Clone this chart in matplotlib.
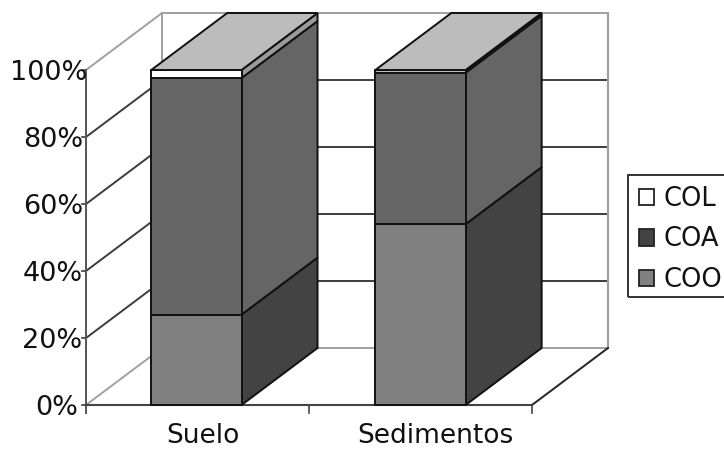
import matplotlib
matplotlib.use('Agg')
import matplotlib.pyplot as plt
from matplotlib.patches import Polygon, Patch, Rectangle

categories = ['Suelo', 'Sedimentos']
coo = [27.0, 54.0]
coa = [70.6, 45.2]
col = [2.4, 0.8]
y_ticks = [0, 20, 40, 60, 80, 100]
y_labels = ['0%', '20%', '40%', '60%', '80%', '100%']

# pixel scale of the picture
px_x = 223.0
px_y = 3.35
dx = 76 / px_x   # depth of the 3d box
dy = 57 / px_y
bar_x = [0.495, 1.5]
w = 0.405

fig = plt.figure(figsize=(7.24, 4.49), dpi=100)
ax = fig.add_axes([0, 0, 1, 1])
ax.set_xlim(-86 / px_x, (724 - 86) / px_x)
ax.set_ylim(-44 / px_y, 405 / px_y)
ax.axis('off')

light = '#a0a0a0'
dark = '#3c3c3c'

# walls and grid
for v in y_ticks:
    c = light if v in (0, 100) else dark
    ax.plot([0, dx], [v, v + dy], color=c, lw=1.4, zorder=1)
    ax.plot([dx, 2 + dx], [v + dy, v + dy], color=c, lw=1.4, zorder=1)
    ax.plot([-4 / px_x, 0], [v, v], color=dark, lw=1.2, zorder=1)
ax.plot([dx, dx], [dy, 100 + dy], color=light, lw=1.4, zorder=1)
ax.plot([2 + dx, 2 + dx], [dy, 100 + dy], color=light, lw=1.6, zorder=1)
ax.plot([0, 0], [-2.4, 100], color='#555555', lw=1.4, zorder=2)
ax.plot([0, 2], [0, 0], color='#444444', lw=1.5, zorder=2)
ax.plot([2, 2 + dx], [0, dy], color='#222222', lw=1.4, zorder=2)
for t in [1, 2]:
    ax.plot([t, t], [-2.4, 0], color='#444444', lw=1.2, zorder=2)


def box(x, y0, y1, front, side):
    ax.add_patch(Polygon([(x + w, y0), (x + w + dx, y0 + dy), (x + w + dx, y1 + dy), (x + w, y1)],
                         fc=side, ec='#111111', lw=1.4, zorder=3))
    ax.add_patch(Polygon([(x, y0), (x + w, y0), (x + w, y1), (x, y1)],
                         fc=front, ec='#111111', lw=1.4, zorder=4))


col_front = ['#ffffff', '#bdbdbd']
col_side = ['#9a9a9a', '#2e2e2e']
for i in range(len(categories)):
    x = bar_x[i] - w / 2
    a = coo[i]
    b = a + coa[i]
    c = b + col[i]
    box(x, 0, a, '#808080', '#434343')
    box(x, a, b, '#656565', '#656565')
    box(x, b, c, col_front[i], col_side[i])
    ax.add_patch(Polygon([(x, c), (x + w, c), (x + w + dx, c + dy), (x + dx, c + dy)],
                         fc='#bcbcbc', ec='#111111', lw=1.4, zorder=5))

# labels
right = [-8, -4, -3, -3, -3, 1]
for v, lab, r in zip(y_ticks, y_labels, right):
    ax.annotate(lab, (0, v), xytext=(r, -3), textcoords='offset pixels', ha='right', va='center',
                fontsize=19.5, color='#111111', zorder=6)
label_x = [0.525, 1.566]
for x, lab in zip(label_x, categories):
    ax.text(x, -11.2, lab, ha='center', va='baseline', fontsize=19, color='#111111')

handles = [Patch(fc='#ffffff', ec='#222222', lw=1.3, label='COL'),
           Patch(fc='#434343', ec='#222222', lw=1.3, label='COA'),
           Patch(fc='#808080', ec='#222222', lw=1.3, label='COO')]
leg = ax.legend(handles=handles, loc='upper left', bbox_to_anchor=(628 / 724, 1 - 175 / 449),
                fontsize=18.5, frameon=False,
                handlelength=0.6, handleheight=0.6, handletextpad=0.38, labelspacing=0.57,
                borderpad=0.42, borderaxespad=0, labelcolor='#111111')
# legend box runs off the right edge in the original
fig.add_artist(Rectangle((628 / 724, 1 - 297 / 449), 0.2, 122 / 449, transform=fig.transFigure,
                         fc='none', ec='#333333', lw=1.4))

fig.savefig('out.png', dpi=100)
